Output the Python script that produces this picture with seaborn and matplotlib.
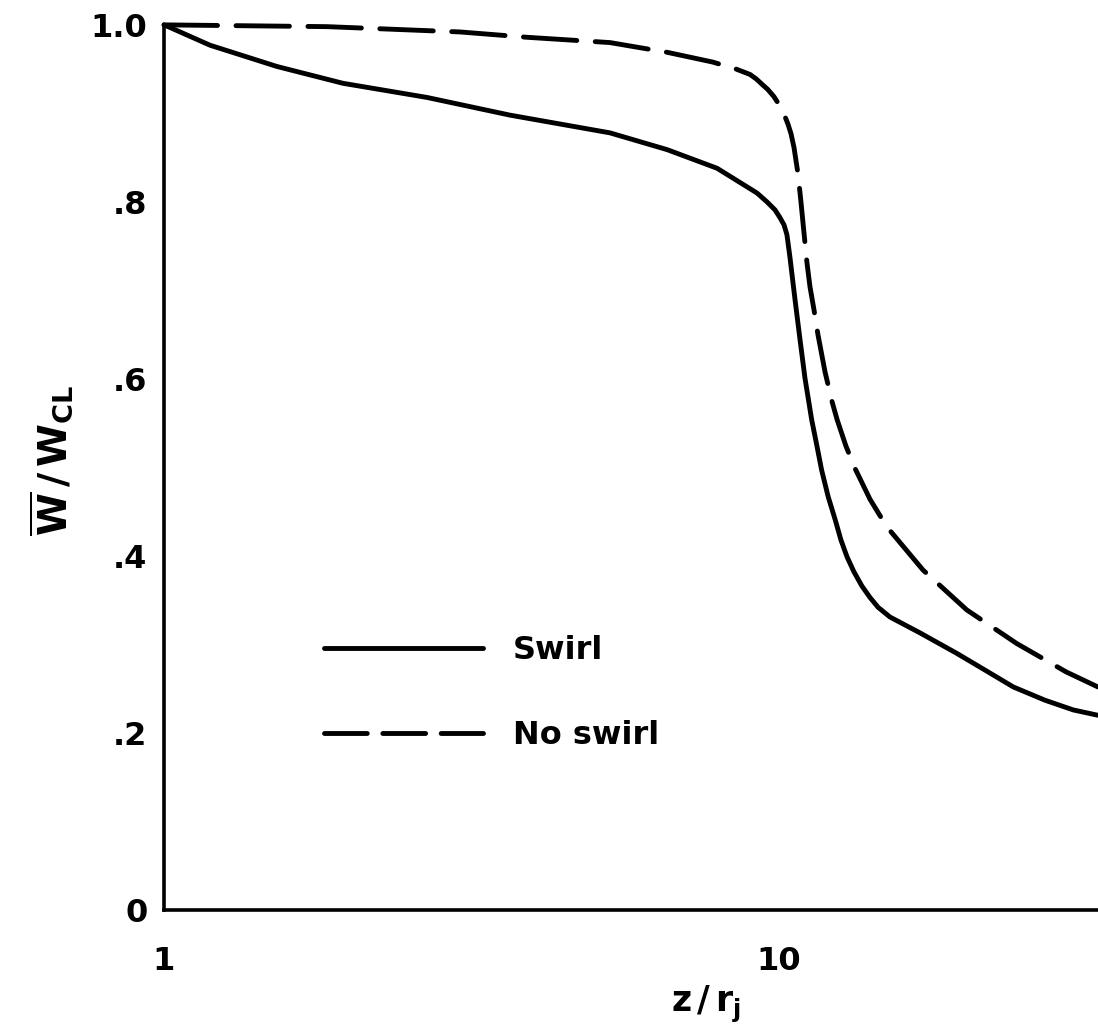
import numpy as np
import pandas as pd
import matplotlib
matplotlib.use("Agg")
import matplotlib.pyplot as plt
import seaborn as sns

# Axial distance from the jet exit, z / r_j  (swirling jet)
swirl_z = [1.0, 1.023, 1.188, 1.526, 1.954, 2.677, 3.653, 5.31, 6.58, 7.93, 9.21,
           9.56, 9.85, 10.02, 10.19, 10.30, 10.42, 10.62, 10.82, 11.02, 11.30,
           11.52, 11.73, 12.02, 12.34, 12.61, 12.90, 13.24, 13.64, 14.06, 14.49,
           15.15, 16.96, 19.45, 21.63, 24.04, 27.07, 30.1, 33.0]
# Mean axial velocity ratio W/W_CL with swirl
swirl_w = [1.0, 0.997, 0.977, 0.953, 0.934, 0.918, 0.898, 0.878, 0.859, 0.838, 0.810,
           0.800, 0.791, 0.783, 0.774, 0.763, 0.737, 0.689, 0.644, 0.601, 0.554,
           0.525, 0.497, 0.467, 0.441, 0.418, 0.399, 0.382, 0.366, 0.353, 0.342,
           0.331, 0.313, 0.290, 0.271, 0.252, 0.237, 0.226, 0.220]

# Axial distance, non-swirling jet
noswirl_z = [1.0, 1.841, 3.03, 3.89, 5.31, 6.58, 7.80, 8.52, 8.97, 9.18, 9.38, 9.59,
             9.81, 10.0, 10.19, 10.34, 10.46, 10.58, 10.74, 10.86, 10.98, 11.10,
             11.23, 11.40, 11.57, 11.88, 12.20, 12.43, 12.85, 13.29, 14.06, 14.97,
             17.15, 20.2, 24.36, 29.3, 33.0]
# Mean axial velocity ratio W/W_CL without swirl
noswirl_w = [1.0, 0.998, 0.992, 0.986, 0.980, 0.969, 0.958, 0.950, 0.944, 0.939, 0.933,
             0.927, 0.919, 0.910, 0.899, 0.888, 0.877, 0.861, 0.831, 0.799, 0.765,
             0.732, 0.704, 0.678, 0.650, 0.608, 0.574, 0.554, 0.524, 0.499, 0.464,
             0.433, 0.384, 0.339, 0.301, 0.269, 0.252]

series_names = ["Swirl", "No swirl"]
x_ticks = [1, 10]
x_tick_labels = ["1", "10"]
y_ticks = [0, 0.2, 0.4, 0.6, 0.8, 1.0]
y_tick_labels = ["0", ".2", ".4", ".6", ".8", "1.0"]

df = pd.concat([
    pd.DataFrame({"z": swirl_z, "w": swirl_w, "case": series_names[0]}),
    pd.DataFrame({"z": noswirl_z, "w": noswirl_w, "case": series_names[1]}),
], ignore_index=True)

sns.set_style("white")
plt.rcParams["font.family"] = ["DejaVu Sans"]
plt.rcParams["mathtext.fontset"] = "dejavusans"
for key in ["text.color", "axes.labelcolor", "xtick.color", "ytick.color"]:
    plt.rcParams[key] = "black"

fig = plt.figure(figsize=(10.98, 10.28), dpi=100)
ax = fig.add_axes([0.1494, 0.1148, 0.8506, 0.861])

LW = 3.5
sns.lineplot(data=df, x="z", y="w", style="case",
             dashes={"Swirl": "", "No swirl": (11, 3.8)},
             color="black", linewidth=LW, sort=False, estimator=None, ax=ax,
             legend=True)
for ln in ax.lines:
    ln.set_clip_on(False)
    ln.set_solid_capstyle("round")
    ln.set_dash_capstyle("round")
    ln.set_solid_joinstyle("round")
    ln.set_dash_joinstyle("round")

ax.set_xscale("log")
ax.set_xlim(1, 10 ** (934 / 615))
ax.set_ylim(0, 1.0)
ax.set_xticks(x_ticks)
ax.set_xticklabels(x_tick_labels)
ax.xaxis.set_minor_locator(matplotlib.ticker.NullLocator())
ax.set_yticks(y_ticks)
ax.set_yticklabels(y_tick_labels)

for side in ["top", "right"]:
    ax.spines[side].set_visible(False)
for side in ["left", "bottom"]:
    ax.spines[side].set_linewidth(2.6)
    ax.spines[side].set_color("black")

ax.tick_params(axis="y", direction="in", length=16, width=2.4, pad=12,
               labelsize=23, colors="black")
ax.tick_params(axis="x", direction="in", length=12, width=2.4, pad=26,
               labelsize=23, colors="black")
for lab in ax.get_xticklabels() + ax.get_yticklabels():
    lab.set_fontweight("bold")

ax.set_xlabel(r"$\mathbf{z\,/\,r_j}$", fontsize=25, color="black")
ax.set_ylabel(r"$\mathbf{\overline{W}\,/\,W_{CL}}$", fontsize=28, color="black")
ax.xaxis.set_label_coords(0.58, -0.083)
ax.yaxis.set_label_coords(-0.094, 0.508)

handles = ax.get_legend_handles_labels()[0]
leg = ax.legend(handles=handles, labels=series_names, frameon=False,
                loc="upper left", bbox_to_anchor=(0.141, 0.343),
                handlelength=4.95, handletextpad=0.94, labelspacing=1.68,
                fontsize=23)
for t in leg.get_texts():
    t.set_fontweight("bold")
    t.set_color("black")
leg_lines = leg.get_lines()
for h in leg_lines:
    h.set_linewidth(LW)
    h.set_color("black")
    h.set_solid_capstyle("round")
    h.set_dash_capstyle("round")
leg_lines[1].set_dashes((8.8, 3.2))

fig.savefig("out.png", dpi=100, facecolor="white")
